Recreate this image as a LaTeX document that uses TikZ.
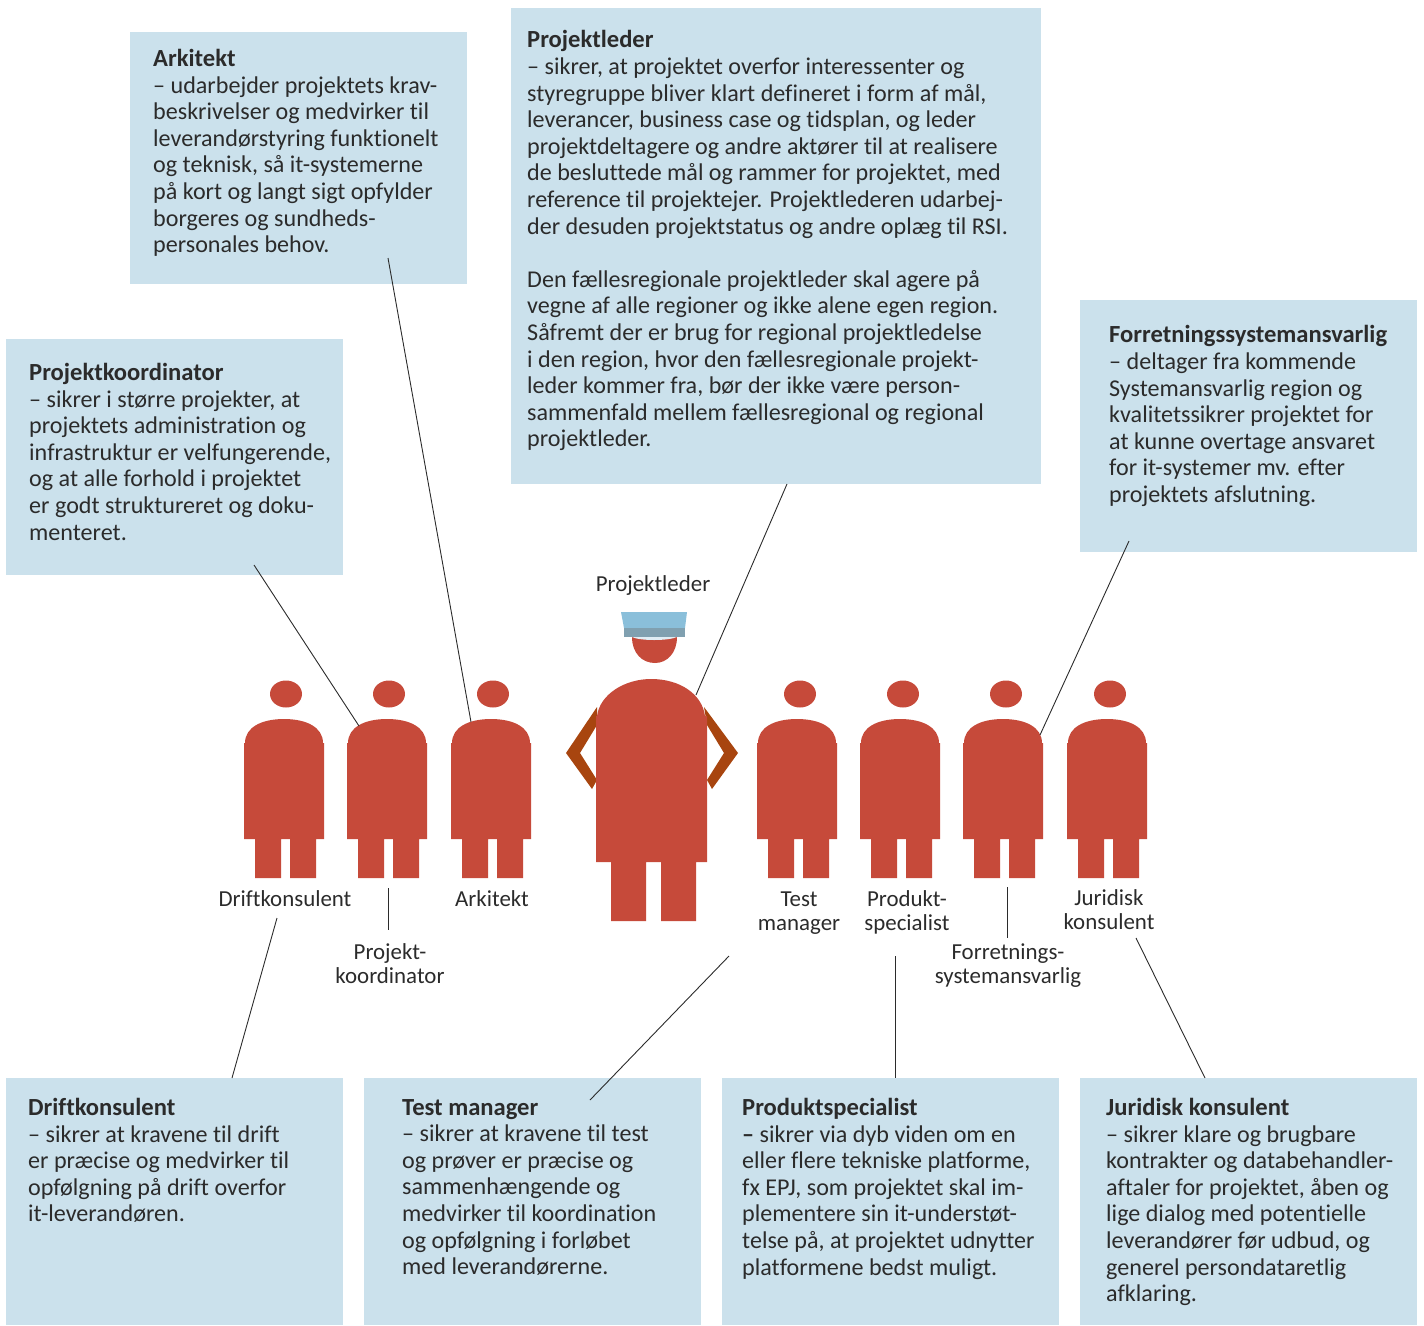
\documentclass[tikz,border=0pt]{standalone}
\usepackage{fontspec}
\setmainfont{Carlito}[Ligatures=NoCommon]
\definecolor{boxblue}{HTML}{CBE1EC}
\definecolor{figred}{HTML}{C64A3A}
\definecolor{armbrown}{HTML}{A8450F}
\definecolor{hatblue}{HTML}{8ABFDA}
\definecolor{bandblue}{HTML}{80A0B0}
\definecolor{inkdark}{HTML}{2B2B2B}
\newcommand\boxnode[5]{\fill[boxblue] (#2,#3) rectangle (#4,#5); \coordinate (#1) at (#2,#3);}
\newcommand\hd[1]{{\fontsize{24.6}{26.6}\selectfont\textbf{#1}}}
\newcommand\smallfig[3]{%
 \begin{scope}[shift={(#1,0)}]
 \fill[figred] (#2,694) ellipse [x radius=16pt,y radius=13.5pt];
 \fill[figred] (0,839)--(0,743)--(1,743) .. controls (1,727) and (18,719) .. (40,719) .. controls (62,719) and (79,727) .. (79,743)--(80,743)--(80,839)--(72,839)--(72,878)--(46,878)--(46,839)--(37,839)--(37,878)--(11,878)--(11,839)--cycle;
 \coordinate (#3) at (40,719);
 \end{scope}}
\tikzset{x=1pt,y=-1pt,
 body/.style={anchor=north west,inner sep=0pt,align=left,text=inkdark,font=\fontsize{24.1}{26.6}\selectfont,execute at begin node={\rule{0pt}{25pt}}},
 lab/.style={anchor=base,inner sep=0pt,align=center,text=inkdark,font=\fontsize{22.9}{24}\selectfont},
 link/.style={draw=inkdark,line width=0.9pt}}
\begin{document}
\begin{tikzpicture}
\useasboundingbox (0,0) rectangle (1424,1325);
% boxes
\boxnode{bArk}{130}{32}{467}{284}
\boxnode{bLed}{511}{8}{1041}{484}
\boxnode{bFor}{1080}{300}{1417}{552}
\boxnode{bKoo}{6}{339}{343}{575}
\boxnode{bDri}{6}{1078}{343}{1325}
\boxnode{bTes}{364}{1078}{701}{1325}
\boxnode{bPro}{722}{1078}{1059}{1325}
\boxnode{bJur}{1080}{1078}{1417}{1325}
% box texts
\node[body] (tArk) at (153,49) {\hd{Arkitekt}\\– udarbejder projektets krav-\\beskrivelser og medvirker til\\leverandørstyring funktionelt\\og teknisk, så it-systemerne\\på kort og langt sigt opfylder\\borgeres og sundheds-\\personales behov.};
\node[body] (tLed) at (527,30.5) {\hd{Projektleder}\\– sikrer, at projektet overfor interessenter og\\styregruppe bliver klart defineret i form af mål,\\leverancer, business case og tidsplan, og leder\\projektdeltagere og andre aktører til at realisere\\de besluttede mål og rammer for projektet, med\\reference til projektejer. Projektlederen udarbej-\\der desuden projektstatus og andre oplæg til RSI.\\[26.6pt]Den fællesregionale projektleder skal agere på\\vegne af alle regioner og ikke alene egen region.\\Såfremt der er brug for regional projektledelse\\i den region, hvor den fællesregionale projekt-\\leder kommer fra, bør der ikke være person-\\sammenfald mellem fællesregional og regional\\projektleder.};
\node[body] (tFor) at (1109,325.5) {\hd{Forretningssystemansvarlig}\\– deltager fra kommende\\Systemansvarlig region og\\kvalitetssikrer projektet for\\at kunne overtage ansvaret\\for it-systemer mv. efter\\projektets afslutning.};
\node[body] (tKoo) at (29,363) {\hd{Projektkoordinator}\\– sikrer i større projekter, at\\projektets administration og\\infrastruktur er velfungerende,\\og at alle forhold i projektet\\er godt struktureret og doku-\\menteret.};
\node[body] (tDri) at (28,1098) {\hd{Driftkonsulent}\\– sikrer at kravene til drift\\er præcise og medvirker til\\opfølgning på drift overfor\\it-leverandøren.};
\node[body] (tTes) at (402,1099) {\hd{Test manager}\\– sikrer at kravene til test\\og prøver er præcise og\\sammenhængende og\\medvirker til koordination\\og opfølgning i forløbet\\med leverandørerne.};
\node[body] (tPro) at (742,1098) {\hd{Produktspecialist}\\\textbf{–} sikrer via dyb viden om en\\eller flere tekniske platforme,\\fx EPJ, som projektet skal im-\\plementere sin it-understøt-\\telse på, at projektet udnytter\\platformene bedst muligt.};
\node[body] (tJur) at (1106,1098) {\hd{Juridisk konsulent}\\– sikrer klare og brugbare\\kontrakter og databehandler-\\aftaler for projektet, åben og\\lige dialog med potentielle\\leverandører før udbud, og\\generel persondataretlig\\afklaring.};
% small figures
\smallfig{244}{42}{fDri}
\smallfig{347}{42}{fKoo}
\smallfig{451}{42}{fArk}
\smallfig{757}{43}{fTes}
\smallfig{860}{43}{fPro}
\smallfig{963}{43}{fFor}
\smallfig{1067}{43}{fJur}
% project manager
\fill[armbrown] (597,707)--(566,753)--(592,789)--(597,780)--(580,753)--(597,725)--cycle;
\fill[armbrown] (704,707)--(738,753)--(712,789)--(707,780)--(724,753)--(707,725)--cycle;
\fill[figred] (596,862)--(596,716)--(597,716) .. controls (600,694) and (625,679) .. (651,679) .. controls (680,679) and (702,694) .. (705,716)--(707,716)--(707,862)--(696,862)--(696,921)--(661,921)--(661,862)--(646,862)--(646,921)--(611,921)--(611,862)--cycle;
\fill[figred] (632,637)--(677,637) .. controls (677,653) and (667,663) .. (655,663) .. controls (642,663) and (632,653) .. (632,637)--cycle;
\fill[hatblue] (621,612)--(687,612)--(685,628)--(624,628)--cycle;
\fill[boxblue!60!white] (632,637) .. controls (640,641) and (668,641) .. (677,637)--cycle;
\fill[bandblue] (624,628) rectangle (685,637);
% labels
\node[lab] (lLed) at (653,591) {Projektleder};
\node[lab] (lDri) at (285,906) {Driftkonsulent};
\node[lab] (lKoo) at (390,959) {Projekt-};
\node[lab] (lKoo2) at (390,983) {koordinator};
\node[lab] (lArk) at (492,906) {Arkitekt};
\node[lab] (lTes) at (799,906) {Test};
\node[lab] (lTes2) at (799,930) {manager};
\node[lab] (lPro) at (907,906) {Produkt-};
\node[lab] (lPro2) at (907,930) {specialist};
\node[lab] (lFor) at (1008,959) {Forretnings-};
\node[lab] (lFor2) at (1008,983) {systemansvarlig};
\node[lab] (lJur) at (1109,905) {Juridisk};
\node[lab] (lJur2) at (1109,929) {konsulent};
% connector ends
\coordinate (a1) at (254,565); \coordinate (a2) at (359,726);
\coordinate (b1) at (388,258); \coordinate (b2) at (471,722);
\coordinate (c1) at (787,484); \coordinate (c2) at (696,695);
\coordinate (d1) at (1129,541); \coordinate (d2) at (1040,735);
\coordinate (e1) at (277,918); \coordinate (e2) at (232,1078);
\coordinate (f1) at (388,888); \coordinate (f2) at (388,930);
\coordinate (g1) at (729,956); \coordinate (g2) at (590,1100);
\coordinate (h1) at (895,956); \coordinate (h2) at (895,1078);
\coordinate (i1) at (1007,887); \coordinate (i2) at (1007,938);
\coordinate (j1) at (1136,938); \coordinate (j2) at (1205,1078);
\foreach \p/\q in {a1/a2,b1/b2,c1/c2,d1/d2,e1/e2,f1/f2,g1/g2,h1/h2,i1/i2,j1/j2}
 \draw[link] (\p) -- (\q);
\end{tikzpicture}
\end{document}
